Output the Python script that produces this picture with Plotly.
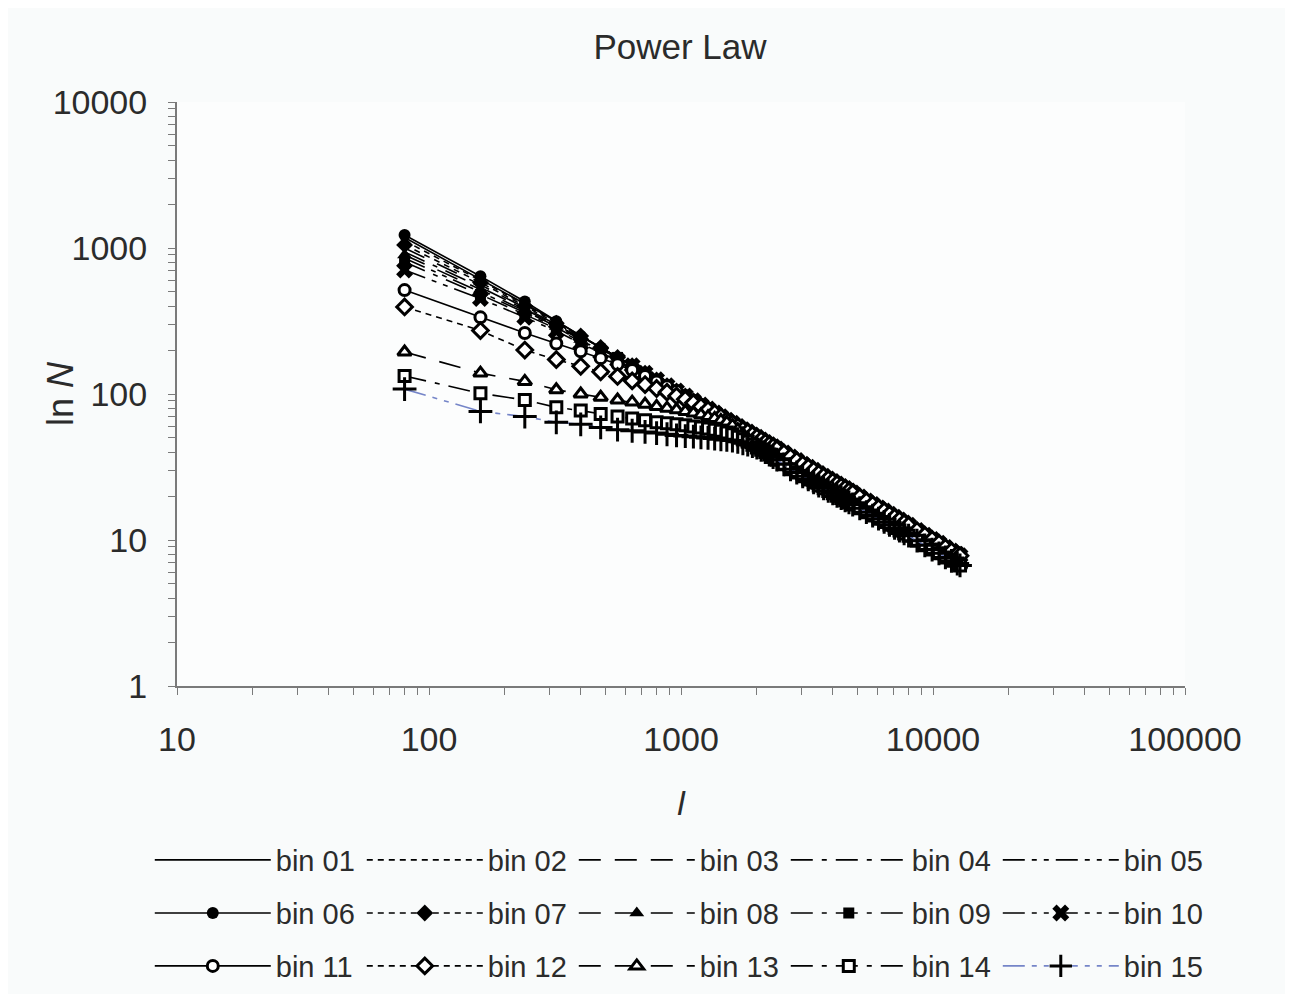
import plotly.graph_objects as go

# sample positions l (x axis)
l_values = [
    80, 160, 240, 320, 400, 480, 560, 640, 720, 800,
    880, 960, 1040, 1120, 1200, 1280, 1360, 1440, 1520, 1600,
    1680, 1760, 1840, 1920, 2000, 2080, 2160, 2240, 2320, 2400,
    2560, 2720, 2880, 3040, 3200, 3360, 3520, 3680, 3840, 4000,
    4160, 4320, 4480, 4640, 4800,
    5120, 5440, 5760, 6080, 6400, 6720, 7040, 7360, 7680, 8000,
    8640, 9280, 9920, 10560, 11200, 11840, 12480, 12800,
]

# upper edge of the common power-law band (bins 01-12 end on it)
upper_n = [
    1200, 620, 420, 315, 250, 208, 178, 156, 139, 125,
    114, 105, 97, 90, 84, 79, 74, 70, 66, 63,
    60, 57, 55, 52.5, 50.5, 48.5, 46.5, 45, 43.5, 42,
    39.5, 37, 35, 33, 31.5, 30, 28.5, 27.3, 26.2, 25.2,
    24.2, 23.3, 22.5, 21.7, 21,
    19.7, 18.5, 17.5, 16.6, 15.8, 15, 14.3, 13.7, 13.1, 12.6,
    11.6, 10.8, 10.1, 9.5, 8.9, 8.4, 8.0, 7.8,
]

# lower edge of the band, from l = 2000 on (bins 13-15 end on it)
lower_n = [
    43, 41.5, 40, 38.5, 37, 35.5,
    33, 30.5, 29, 27.3, 26, 24.8, 23.6, 22.6, 21.7, 20.9,
    20.1, 19.4, 18.7, 18.1, 17.5,
    16.5, 15.5, 14.7, 14, 13.3, 12.7, 12.1, 11.6, 11.1, 10.7,
    9.9, 9.2, 8.6, 8.1, 7.6, 7.2, 6.9, 6.7,
]

# start of each bin, before it joins the band
bin01 = [1180, 615, 415]
bin02 = [1120, 600, 410, 310]
bin03 = [1000, 560, 390, 300, 242]
bin04 = [940, 540, 380, 295, 240]
bin05 = [850, 500, 360, 285, 232, 200]
bin06 = [1228, 640, 430]
bin07 = [1050, 580, 400, 305]
bin08 = [896, 520, 370, 290, 236]
bin09 = [802, 480, 350, 280, 228, 196]
bin10 = [707, 450, 335, 270, 222, 192, 170]
bin11 = [515, 335, 262, 222, 196, 176, 160, 146, 133, 122, 113]
bin12 = [395, 272, 200, 172, 155, 142, 132, 123, 116, 109, 103, 97, 92, 87, 82, 78]
bin13 = [194, 139, 122, 107, 100, 95, 91, 88, 85, 82, 80, 78,
         76, 74, 72, 70, 68, 66, 64, 61, 57, 53, 49.5, 46]
bin14 = [133, 101, 91, 81, 77, 73, 70, 68, 66, 64, 63, 62,
         61, 60, 59, 58, 57, 56, 54.5, 53, 51, 49, 47, 45]
bin15 = [108, 76, 70, 64, 62, 59, 57, 56, 55, 54, 53, 52,
         51.5, 51, 50.5, 50, 49.5, 49, 48.5, 48, 47, 46, 45, 44]

bin_names = ["bin 01", "bin 02", "bin 03", "bin 04", "bin 05",
             "bin 06", "bin 07", "bin 08", "bin 09", "bin 10",
             "bin 11", "bin 12", "bin 13", "bin 14", "bin 15"]
bin_heads = [bin01, bin02, bin03, bin04, bin05, bin06, bin07, bin08,
             bin09, bin10, bin11, bin12, bin13, bin14, bin15]
bin_band = ['upper'] * 12 + ['lower'] * 3

x_tickvals = [10, 100, 1000, 10000, 100000]
x_ticktext = ["10", "100", "1000", "10000", "100000"]
y_tickvals = [1, 10, 100, 1000, 10000]
y_ticktext = ["1", "10", "100", "1000", "10000"]

# minor ticks at 2..9 of every decade
x_minor = [m * d for d in (10, 100, 1000, 10000) for m in range(2, 10)]
y_minor = [m * d for d in (1, 10, 100, 1000) for m in range(2, 10)]

# line dash patterns repeat every 5 bins (Excel style)
dashes = ['solid', '6px,5px', '22px,14px', '22px,9px,5px,9px',
          '22px,7px,5px,7px,5px,7px']
open_line = dict(color='black', width=3)
markers = [None] * 5 + [
    dict(symbol='circle', size=12, color='black'),
    dict(symbol='diamond', size=13, color='black'),
    dict(symbol='triangle-up', size=13, color='black'),
    dict(symbol='square', size=11, color='black'),
    dict(symbol='x', size=15, color='black'),
    dict(symbol='circle', size=11, color='white', line=open_line),
    dict(symbol='diamond', size=12, color='white', line=open_line),
    dict(symbol='triangle-up', size=12, color='white', line=open_line),
    dict(symbol='square', size=11, color='white', line=open_line),
    dict(symbol='cross-thin', size=17, color='black', line=dict(color='black', width=3)),
]
legend_rows = ['legend'] * 5 + ['legend2'] * 5 + ['legend3'] * 5

font_family = "Liberation Sans, Arial, sans-serif"
text_color = '#2b2b2b'
axis_color = '#7a7a7a'

fig = go.Figure()

for i, (name, head) in enumerate(zip(bin_names, bin_heads)):
    if bin_band[i] == 'upper':
        y = head + upper_n[len(head):]
    else:
        start = len(l_values) - len(lower_n)
        y = head + lower_n[len(head) - start:]
    line_color = '#7585c8' if name == "bin 15" else 'black'
    mk = markers[i]
    fig.add_trace(go.Scatter(
        x=l_values,
        y=y,
        name=name,
        legend=legend_rows[i],
        mode='lines+markers' if mk else 'lines',
        line=dict(color=line_color, width=1.6, dash=dashes[i % 5]),
        marker=mk,
    ))


def legend_row(yc):
    return dict(
        orientation='h',
        x=-0.027, xanchor='left',
        y=yc, yanchor='middle',
        entrywidth=81, entrywidthmode='pixels',
        itemwidth=116,
        font=dict(size=29),
        bgcolor='rgba(0,0,0,0)',
        traceorder='normal',
        itemsizing='trace',
    )


axis_common = dict(
    type='log',
    showgrid=False,
    zeroline=False,
    showline=True,
    linecolor=axis_color,
    linewidth=2,
    ticks='outside',
    ticklen=7,
    tickcolor=axis_color,
    tickfont=dict(size=34),
)

fig.update_layout(
    width=1277,
    height=986,
    paper_bgcolor='#f9fbfb',
    plot_bgcolor='#fcfdfd',
    font=dict(family=font_family, color=text_color, size=28),
    title=dict(text="Power Law", x=0.5262, xanchor='center', y=0.9604,
               yanchor='middle', font=dict(size=35)),
    margin=dict(l=169, r=100, t=94, b=308, autoexpand=False),
    showlegend=True,
    legend=legend_row(-0.298),
    legend2=legend_row(-0.389),
    legend3=legend_row(-0.4795),
    xaxis=dict(
        axis_common,
        range=[1, 5],
        tickmode='array',
        tickvals=x_tickvals,
        ticktext=x_ticktext,
        ticklabelstandoff=15,
        minor=dict(ticks='outside', ticklen=7, tickcolor=axis_color,
                   showgrid=False, tickmode='array', tickvals=x_minor),
        title=dict(text="<i>l</i>", font=dict(size=34), standoff=34),
    ),
    yaxis=dict(
        axis_common,
        range=[0, 4],
        tickmode='array',
        tickvals=y_tickvals,
        ticktext=y_ticktext,
        ticklabelstandoff=14,
        minor=dict(ticks='outside', ticklen=7, tickcolor=axis_color,
                   showgrid=False, tickmode='array', tickvals=y_minor),
    ),
    annotations=[dict(
        text="ln <i>N</i>", textangle=-90,
        xref='paper', yref='paper', x=0, y=0.5,
        xanchor='center', yanchor='middle', xshift=-117,
        showarrow=False, font=dict(size=36),
    )],
)

fig.write_html("out.html")
